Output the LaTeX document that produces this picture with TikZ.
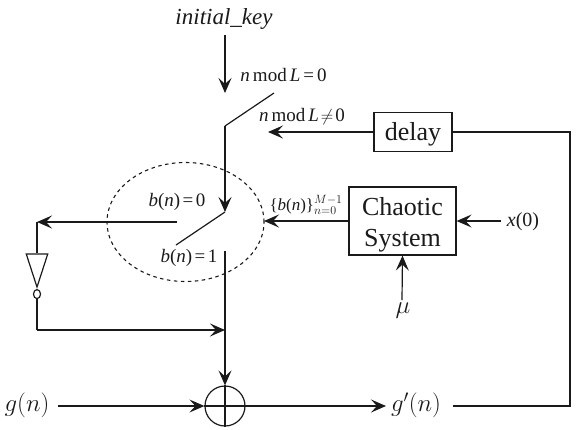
\documentclass[tikz,border=0pt]{standalone}
\usepackage{fontspec}
\setmainfont{Liberation Serif}
\usetikzlibrary{arrows.meta, positioning, shapes.geometric, calc}
\definecolor{LineDark}{HTML}{1A1A1A}
\tikzset{
    flow/.style={-{Stealth[length=15pt, width=13pt, inset=6pt]}, line width=1.2pt, color=LineDark},
    wire/.style={line width=1.2pt, color=LineDark},
    blockbox/.style={draw=LineDark, line width=1.2pt, inner sep=0pt, align=center},
    lab/.style={inner sep=0pt, font=\fontsize{19}{21}\selectfont},
}
\begin{document}
\begin{tikzpicture}[x=1pt, y=-1pt, every node/.style={align=center, text=LineDark}]
    \useasboundingbox (0,0) rectangle (581,429);
    % Blocks
    \node[blockbox, minimum width=78pt, minimum height=39pt, font=\fontsize{26}{28}\selectfont] (delay) at (413,132) {\rule{0pt}{22pt}delay};
    \node[blockbox, minimum width=107pt, minimum height=68pt, font=\fontsize{26}{31}\selectfont] (chaos) at (402.5,221) {\rule{0pt}{25pt}Chaotic\\System};
    \node[draw=LineDark, line width=1.2pt, circle, minimum size=40pt, inner sep=0pt] (xor) at (225,406) {};
    \node[draw=LineDark, dash pattern=on 3.5pt off 3.5pt, line width=1.1pt, ellipse, minimum width=157pt, minimum height=119pt, inner sep=0pt] (sel) at (185.5,222) {};
    \node[draw=LineDark, line width=1.2pt, isosceles triangle, shape border rotate=-90, isosceles triangle apex angle=36, minimum height=33pt, inner sep=0pt, anchor=apex] (inv) at (37,289) {};
    \node[draw=LineDark, line width=1.2pt, ellipse, minimum width=7pt, minimum height=9pt, inner sep=0pt, anchor=north] (bub) at (inv.apex) {};

    % Labels
    \node[inner sep=0pt, font=\fontsize{23}{25}\selectfont\itshape] (key) at (224,19) {initial\_key};
    \node[lab] (m0) at (283.5,75) {\textit{n}\kern3pt mod\kern3pt\textit{L}\kern3pt=\kern3pt0};
    \node[lab] (m1) at (302,117) {\textit{n}\kern3pt mod\kern3pt\textit{L}\kern2pt$\neq$\kern2pt0};
    \node[lab] (b0) at (177,202) {\textit{b}(\textit{n})\kern2.5pt=\kern2.5pt0};
    \node[lab] (b1) at (189,258) {\textit{b}(\textit{n})\kern2.5pt=\kern2.5pt1};
    \node[inner sep=0pt, font=\fontsize{17}{19}\selectfont] (seq) at (306,205) {\{\textit{b}(\textit{n})\}$_{n=0}^{M-1}$};
    \node[inner sep=0pt, font=\fontsize{20}{22}\selectfont] (x0) at (523,222) {\textit{x}(0)};
    \node[inner sep=0pt, font=\fontsize{23}{25}\selectfont] (mu) at (403,311) {$\mu$};
    \node[inner sep=0pt, font=\fontsize{23}{25}\selectfont] (gin) at (27,405) {$g(n)$};
    \node[inner sep=0pt, font=\fontsize{23}{25}\selectfont] (gout) at (416,405) {$g'(n)$};

    % Switch points
    \coordinate (keystart) at (225,35);
    \coordinate (keyend) at (225,93);
    \coordinate (topsw) at (274,93);
    \coordinate (topknee) at (225,126);
    \coordinate (midpt) at (225,212);
    \coordinate (lowsw) at (176,245);
    \coordinate (lowstart) at (225,251);
    \coordinate (leftstart) at (177,222);
    \coordinate (leftend) at (37,222);
    \coordinate (backleft) at (37,330);
    \coordinate (backend) at (225,330);
    \coordinate (ginstart) at (58,406);
    \coordinate (goutend) at (386,406);
    \coordinate (fbstart) at (453,406);
    \coordinate (fbcorner) at (570,406);
    \coordinate (fbup) at (570,132);
    \coordinate (delayend) at (268,132);
    \coordinate (chaosend) at (264,221);
    \coordinate (x0start) at (501,221);
    \coordinate (mustart) at (402,300);

    % Arrows
    \draw[flow] (keystart) -- (keyend);
    \draw[wire] (topsw) -- (topknee);
    \draw[flow] (topknee) -- (midpt);
    \draw[wire] (midpt) -- (lowsw);
    \draw[flow] (lowstart) -- (xor.north);
    \draw[flow] (leftstart) -- (leftend);
    \draw[wire] (leftend) -- (inv.north);
    \draw[wire] (bub.south) -- (backleft);
    \draw[flow] (backleft) -- (backend);
    \draw[flow] (ginstart) -- (xor.west);
    \draw[wire] (xor.north) -- (xor.south);
    \draw[flow] (xor.west) -- (goutend);
    \draw[wire] (fbstart) -- (fbcorner) -- (fbup) -- (delay.east);
    \draw[flow] (delay.west) -- (delayend);
    \draw[flow] (chaos.west) -- (chaosend);
    \draw[flow] (x0start) -- (chaos.east);
    \draw[flow] (mustart) -- (chaos.south);
\end{tikzpicture}
\end{document}
